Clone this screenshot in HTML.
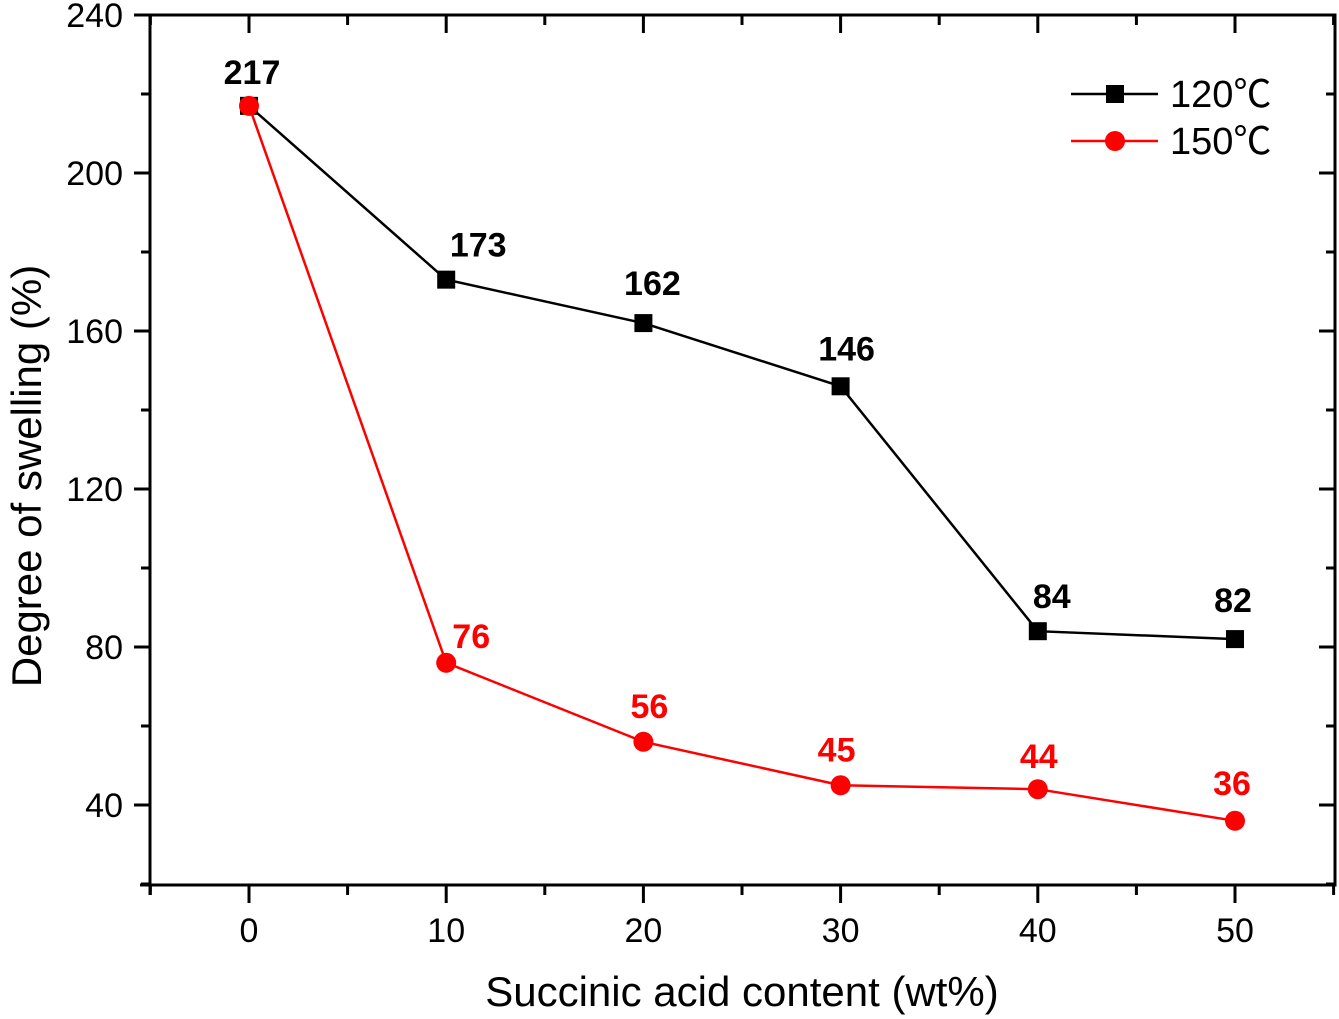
<!DOCTYPE html>
<html><head><meta charset="utf-8"><style>
html,body{margin:0;padding:0;background:#fff}
svg{display:block;font-family:"Liberation Sans","Noto Sans CJK SC",sans-serif}
</style></head><body>
<svg id="chart" width="1339" height="1019" xmlns="http://www.w3.org/2000/svg">
<g id="axes"></g><g id="series"></g><g id="legend"></g>
</svg>
<script>
const categories = [0, 10, 20, 30, 40, 50];
const series120 = [217, 173, 162, 146, 84, 82];
const series150 = [217, 76, 56, 45, 44, 36];
const yTicks = [40, 80, 120, 160, 200, 240];
const xTicks = [0, 10, 20, 30, 40, 50];

const NS = "http://www.w3.org/2000/svg";
const L = 150, R = 1335, T = 15, B = 885;
const xs = v => 249 + v * 19.72;
const ys = v => 963 - v * 3.95;
function el(tag, attrs, parent, text) {
  const e = document.createElementNS(NS, tag);
  for (const k in attrs) e.setAttribute(k, attrs[k]);
  if (text !== undefined) e.textContent = text;
  parent.appendChild(e);
  return e;
}
const axes = document.getElementById('axes');
const frame = el('rect', {x: L, y: T, width: R - L, height: B - T, fill: 'none', stroke: '#000', 'stroke-width': 3}, axes);


el('line', {x1: 140, y1: B, x2: L, y2: B, stroke: '#000', 'stroke-width': 3}, axes);

for (let v = 20; v <= 240; v += 20) {
  const y = ys(v), major = v % 40 === 0;
  const len = major ? 16 : 9;
  el('line', {x1: L - len, y1: y, x2: L, y2: y, stroke: '#000', 'stroke-width': 3}, axes);
  el('line', {x1: R, y1: y, x2: R - len, y2: y, stroke: '#000', 'stroke-width': 3}, axes);
}
yTicks.forEach(v => {
  const t = el('text', {x: 123, y: ys(v) + 12, 'text-anchor': 'end', 'font-size': 34}, axes, v);
  
  
});
for (let v = -5; v <= 55; v += 5) {
  const x = xs(v); if (x < L - 2 || x > R) continue;
  const major = v % 10 === 0;
  const len = major ? 18 : 10;
  el('line', {x1: x, y1: B, x2: x, y2: B + len, stroke: '#000', 'stroke-width': 3}, axes);
  el('line', {x1: x, y1: T, x2: x, y2: T + len, stroke: '#000', 'stroke-width': 3}, axes);
}
el('line', {x1: L, y1: B, x2: L, y2: B + 10, stroke: '#000', 'stroke-width': 3}, axes);
xTicks.forEach(v => {
  const t = el('text', {x: xs(v), y: 942, 'text-anchor': 'middle', 'font-size': 34}, axes, v);
  
  
});
const xt = el('text', {x: 742, y: 1006, 'text-anchor': 'middle', 'font-size': 42}, axes, 'Succinic acid content (wt%)');


const yt = el('text', {x: 0, y: 0, 'text-anchor': 'middle', 'font-size': 42, transform: 'translate(41,476) rotate(-90)'}, axes, 'Degree of swelling (%)');



const sg = document.getElementById('series');
function drawSeries(vals, color, shape, name, labelOffsets) {
  const pts = vals.map((v, i) => xs(categories[i]) + ',' + ys(v)).join(' ');
  const line = el('polyline', {points: pts, fill: 'none', stroke: color, 'stroke-width': 2.5}, sg);
  
  
  vals.forEach((v, i) => {
    const x = xs(categories[i]), y = ys(v);
    let m;
    if (shape === 'square') m = el('rect', {x: x - 9, y: y - 9, width: 18, height: 18, fill: color}, sg);
    else m = el('circle', {cx: x, cy: y, r: 10, fill: color}, sg);
    
    
    if (labelOffsets[i]) {
      const t = el('text', {x: x + labelOffsets[i][0], y: y + labelOffsets[i][1], 'text-anchor': 'middle', 'font-size': 34, 'font-weight': 'bold', fill: color}, sg, v);
      
      
    }
  });
}
drawSeries(series120, '#000', 'square', 'series-120c', [[3, -22], [32, -23], [9, -28], [6, -26], [14, -23], [-2, -27]]);
drawSeries(series150, '#f00', 'circle', 'series-150c', [null, [25, -15], [6, -24], [-4, -24], [1, -21], [-3, -26]]);

const lg = document.getElementById('legend');
const items = [['120℃', '#000', 'square', 94], ['150℃', '#f00', 'circle', 141]];
items.forEach(([label, c, s, y]) => {
  const g = el('g', {}, lg);
  
  
  el('line', {x1: 1071, y1: y, x2: 1158, y2: y, stroke: c, 'stroke-width': 2.5}, g);
  if (s === 'square') el('rect', {x: 1106, y: y - 9, width: 18, height: 18, fill: c}, g);
  else el('circle', {cx: 1115, cy: y, r: 10, fill: c}, g);
  el('text', {x: 1170, y: y + 13, 'font-size': 38}, g, label);
});
</script>
</body></html>
